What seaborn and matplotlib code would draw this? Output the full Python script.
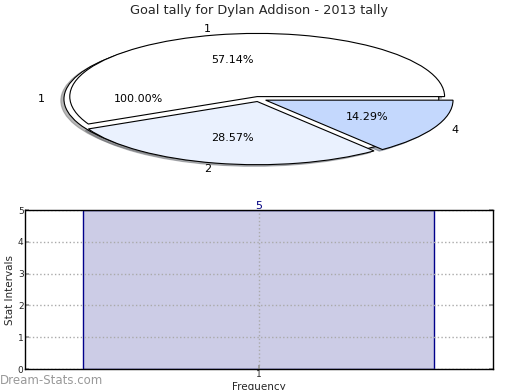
import matplotlib
matplotlib.use('Agg')
import matplotlib.pyplot as plt
import seaborn as sns
import pandas as pd

title = "Goal tally for Dylan Addison - 2013 tally"
total_labels = ['1']
total_values = [1]
pie_labels = ['1', '2', '4']
pie_values = [4, 2, 1]
pie_colors = ['#FFFFFF', '#EAF1FE', '#C4D8FD']
bar_categories = ['1']
bar_values = [5]

sns.set_theme(style='white')
plt.rcParams['font.family'] = ['DejaVu Sans']

fig = plt.figure(figsize=(5.2, 3.9), dpi=100)

# Pie (squashed ellipse)
ax1 = fig.add_axes([0.0473, 0.5435, 0.901, 0.405])
wp = dict(edgecolor='black', linewidth=0.8)
shadow = dict(ox=-0.012, oy=-0.018, shade=0.55)
ax1.pie(total_values, labels=total_labels, autopct='%.2f%%', explode=[0.04],
        colors=['white'], shadow=shadow, wedgeprops=wp, startangle=0,
        textprops=dict(fontsize=8, color='black'))
ax1.pie(pie_values, labels=pie_labels, autopct='%.2f%%', explode=[0.04] * len(pie_values),
        colors=pie_colors, shadow=shadow, wedgeprops=wp, startangle=0,
        textprops=dict(fontsize=8, color='black'))
ax1.set_aspect('auto')
ax1.set_xlim(-1.25, 1.25)
ax1.set_ylim(-1.25, 1.25)
fig.text(0.498, 0.99, title, ha='center', va='top', fontsize=9.3)

# Bar chart
ax2 = fig.add_axes([0.048, 0.0538, 0.9, 0.4077])
df = pd.DataFrame({'cat': bar_categories, 'val': bar_values})
sns.barplot(data=df, x='cat', y='val', ax=ax2, color='#CCCCE6', width=0.75,
            edgecolor='#00008B', linewidth=1, saturation=1, errorbar=None)
ax2.set_xlim(-0.5, 0.5)
ax2.set_ylim(0, 5)
ax2.set_yticks(range(0, 6))
ax2.set_axisbelow(False)
ax2.grid(True, linestyle=':', color='#AAAAAA', linewidth=1)
for sp in ax2.spines.values():
    sp.set_visible(True)
    sp.set_color('black')
    sp.set_linewidth(1)
    sp.set_zorder(3)
ax2.tick_params(direction='in', length=3, color='#999999', labelsize=6.5,
                left=True, right=True, bottom=True, top=False, pad=1)
ax2.bar_label(ax2.containers[0], color='#000080', fontsize=8, padding=-1)
ax2.set_xlabel('Frequency', fontsize=7.5, labelpad=2)
ax2.set_ylabel('Stat Intervals', fontsize=7.5, labelpad=2)

fig.text(0.0, 0.008, 'Dream-Stats.com', ha='left', va='bottom', fontsize=8.5,
         color='#999999')

fig.savefig('out.png', dpi=100)
